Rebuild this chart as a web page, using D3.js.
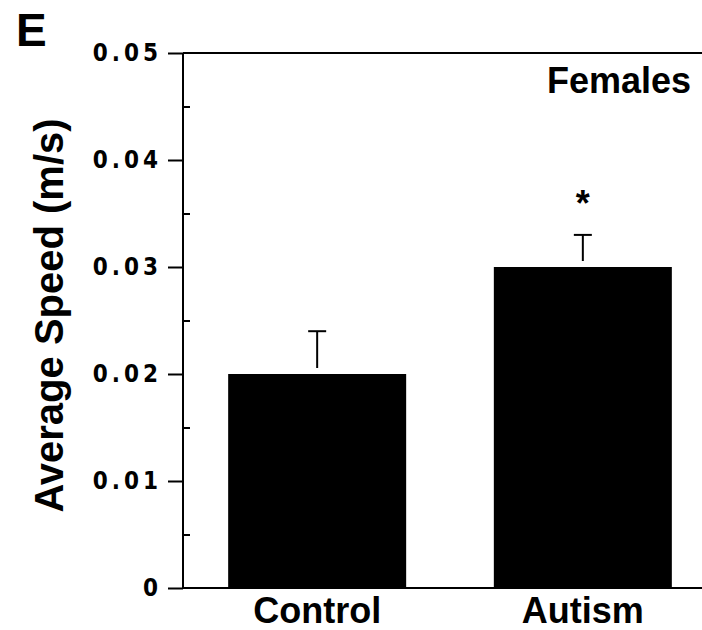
<!DOCTYPE html>
<html>
<head>
<meta charset="utf-8">
<script src="https://cdn.jsdelivr.net/npm/d3@7"></script>
<style>
  body { margin: 0; background: #fff; }
  svg text { font-family: "Liberation Sans", Arial, sans-serif; font-weight: bold; }
</style>
</head>
<body>
<script>
var categories = ["Control", "Autism"];
var speeds = [0.020, 0.030];
var errors = [0.004, 0.003];
var marks = ["", "*"];
var yTicks = [0, 0.01, 0.02, 0.03, 0.04, 0.05];
var yTickLabels = ["0", "0.01", "0.02", "0.03", "0.04", "0.05"];
var minorTicks = [0.005, 0.015, 0.025, 0.035, 0.045];

var w = 702, h = 630;

var svg = d3.select("body").append("svg")
    .attr("width", w)
    .attr("height", h);

var xScale = d3.scaleBand()
    .domain(categories)
    .range([183, 717])
    .paddingInner(0.33)
    .paddingOuter(0.17);

var yScale = d3.scaleLinear()
    .domain([0, 0.05])
    .range([588, 53]);

// bars
svg.selectAll("rect.bar")
    .data(categories)
    .enter()
    .append("rect")
    .attr("class", "bar")
    .attr("x", function(d) { return xScale(d); })
    .attr("y", function(d, i) { return yScale(speeds[i]); })
    .attr("width", xScale.bandwidth())
    .attr("height", function(d, i) { return yScale(0) - yScale(speeds[i]); })
    .attr("fill", "#000");

// error bars (stem stops a little short of the bar top, as in the figure)
var eb = svg.selectAll("g.err")
    .data(categories)
    .enter()
    .append("g")
    .attr("class", "err");
eb.append("line")
    .attr("x1", function(d) { return xScale(d) + xScale.bandwidth() / 2; })
    .attr("x2", function(d) { return xScale(d) + xScale.bandwidth() / 2; })
    .attr("y1", function(d, i) { return yScale(speeds[i] + errors[i]); })
    .attr("y2", function(d, i) { return yScale(speeds[i]) - 6; })
    .attr("stroke", "#000")
    .attr("stroke-width", 2);
eb.append("line")
    .attr("x1", function(d) { return xScale(d) + xScale.bandwidth() / 2 - 9; })
    .attr("x2", function(d) { return xScale(d) + xScale.bandwidth() / 2 + 9; })
    .attr("y1", function(d, i) { return yScale(speeds[i] + errors[i]); })
    .attr("y2", function(d, i) { return yScale(speeds[i] + errors[i]); })
    .attr("stroke", "#000")
    .attr("stroke-width", 2);

// significance marks
svg.selectAll("text.sig")
    .data(categories)
    .enter()
    .append("text")
    .attr("class", "sig")
    .attr("x", function(d) { return xScale(d) + xScale.bandwidth() / 2; })
    .attr("y", function(d, i) { return yScale(speeds[i] + errors[i]) - 19; })
    .attr("text-anchor", "middle")
    .style("font-size", "36px")
    .text(function(d, i) { return marks[i]; });

// y axis with major ticks outside
var yAxis = svg.append("g")
    .attr("transform", "translate(183,0)")
    .call(d3.axisLeft(yScale)
        .tickValues(yTicks)
        .tickSize(15)
        .tickPadding(10)
        .tickFormat(function(d, i) { return yTickLabels[i]; }));
yAxis.select(".domain").remove();
yAxis.selectAll(".tick line").attr("stroke", "#000").attr("stroke-width", 2);
yAxis.selectAll(".tick text")
    .style("font-family", "'Liberation Sans Narrow', 'DejaVu Sans Condensed', sans-serif")
    .style("font-size", "24px")
    .style("letter-spacing", "4px")
    .attr("dx", 4)
    .attr("fill", "#000");

// minor ticks inside
svg.append("g")
    .attr("transform", "translate(183,0)")
    .call(d3.axisRight(yScale)
        .tickValues(minorTicks)
        .tickSize(7)
        .tickFormat(""))
    .call(function(g) { g.select(".domain").remove(); })
    .selectAll(".tick line").attr("stroke", "#000").attr("stroke-width", 2);

// axis lines: left, top, bottom
svg.append("line")
    .attr("x1", 183).attr("x2", 183)
    .attr("y1", yScale(0.05)).attr("y2", yScale(0))
    .attr("stroke", "#000").attr("stroke-width", 2);
svg.append("line")
    .attr("x1", 183).attr("x2", w)
    .attr("y1", yScale(0.05)).attr("y2", yScale(0.05))
    .attr("stroke", "#000").attr("stroke-width", 2);
svg.append("line")
    .attr("x1", 183).attr("x2", w)
    .attr("y1", yScale(0)).attr("y2", yScale(0))
    .attr("stroke", "#000").attr("stroke-width", 2);

// category labels
svg.selectAll("text.cat")
    .data(categories)
    .enter()
    .append("text")
    .attr("class", "cat")
    .attr("x", function(d) { return xScale(d) + xScale.bandwidth() / 2; })
    .attr("y", 623)
    .attr("text-anchor", "middle")
    .style("font-size", "36px")
    .text(function(d) { return d; });

// y axis title
svg.append("text")
    .attr("transform", "translate(63," + ((yScale(0) + yScale(0.05)) / 2 - 5) + ")rotate(-90)")
    .attr("text-anchor", "middle")
    .style("font-size", "40px")
    .text("Average Speed (m/s)");

svg.append("text")
    .attr("x", 691)
    .attr("y", 93)
    .attr("text-anchor", "end")
    .style("font-size", "36px")
    .text("Females");

svg.append("text")
    .attr("x", 16)
    .attr("y", 46)
    .style("font-size", "46px")
    .text("E");
</script>
</body>
</html>
